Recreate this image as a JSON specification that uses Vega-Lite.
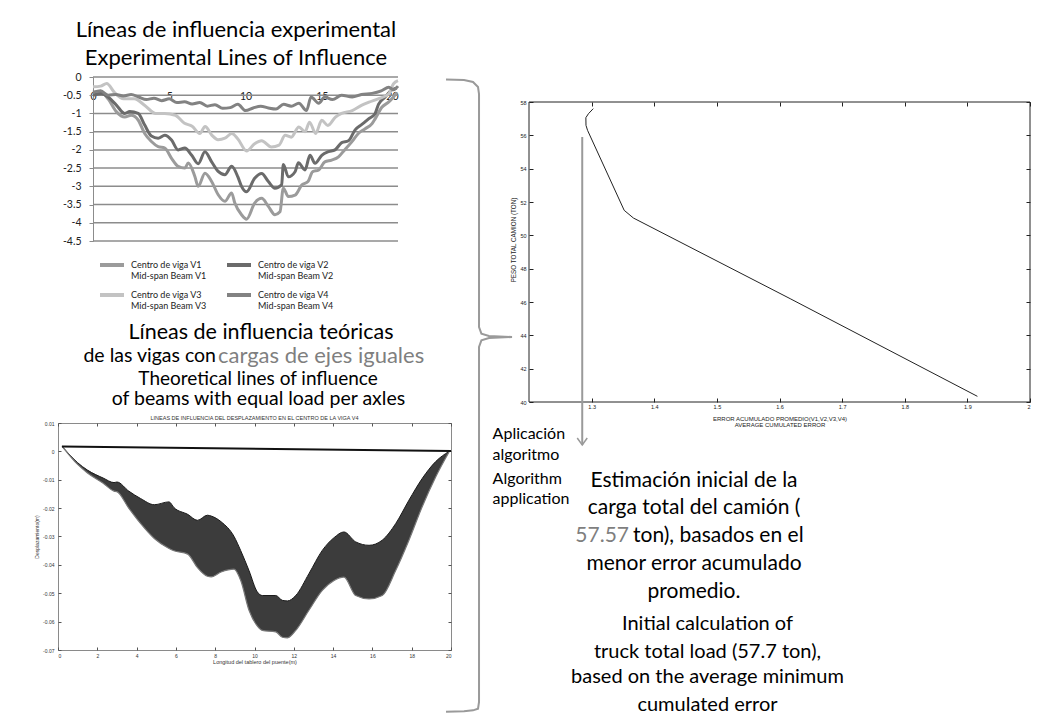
{
  "$schema": "https://vega.github.io/schema/vega-lite/v6.json",
  "background": "white",
  "padding": {"left": 34, "top": 19, "right": 5, "bottom": 5},
  "config": {"font": "Lato", "view": {"stroke": null}, "axis": {"grid": false, "labelOverlap": false}},
  "bounds": "flush",
  "columns": 2,
  "spacing": {"row": 21, "column": 78},
  "concat": [
    {
      "width": 340,
      "height": 164,
      "title": {"text": ["Líneas de influencia experimental", "Experimental Lines of Influence"], "fontSize": 22, "font": "Lato", "fontWeight": "normal", "lineHeight": 28, "anchor": "middle", "dx": 8, "offset": 2, "color": "black"},
      "layer": [
        {
          "data": {"values": [{"g": 0}, {"g": -0.5}, {"g": -1}, {"g": -1.5}, {"g": -2}, {"g": -2.5}, {"g": -3}, {"g": -3.5}, {"g": -4}, {"g": -4.5}]},
          "mark": {"type": "rule", "color": "#8c8c8c", "strokeWidth": 1.5},
          "encoding": {
            "x": {"datum": 0, "type": "quantitative", "scale": {"domain": [-2.295, 20], "nice": false, "zero": false}, "axis": {"orient": "bottom", "offset": -164, "values": [0, 5, 10, 15, 20], "tickCount": 50, "format": "d", "ticks": false, "domain": false, "labelOverlap": false, "labelPadding": 14, "labelFontSize": 10.5, "labelFont": "Lato", "labelColor": "#222", "title": null}},
            "x2": {"datum": 20},
            "y": {"field": "g", "type": "quantitative", "scale": {"domain": [-4.5, 0], "nice": false, "zero": false}, "axis": {"offset": -35, "values": [0, -0.5, -1, -1.5, -2, -2.5, -3, -3.5, -4, -4.5], "tickCount": 50, "labelOverlap": false, "domainColor": "#8c8c8c", "tickColor": "#8c8c8c", "tickSize": 4, "labelPadding": 8, "labelFontSize": 10.5, "labelFont": "Lato", "labelColor": "#222", "title": null, "labelExpr": "datum.value == 0 ? '0' : '-' + format(abs(datum.value), '~g')"}}
          }
        },
        {
          "data": {"values": [
            {"s":"V1","x":0,"y":-0.45},{"s":"V1","x":0.55,"y":-0.42},{"s":"V1","x":0.99,"y":-0.6},{"s":"V1","x":1.53,"y":-0.95},{"s":"V1","x":2.08,"y":-1.1},{"s":"V1","x":2.5,"y":-1.05},{"s":"V1","x":2.96,"y":-1.18},{"s":"V1","x":3.39,"y":-1.55},{"s":"V1","x":3.83,"y":-1.77},{"s":"V1","x":4.27,"y":-1.91},{"s":"V1","x":4.71,"y":-1.95},{"s":"V1","x":5.15,"y":-2.23},{"s":"V1","x":5.58,"y":-2.45},{"s":"V1","x":6.02,"y":-2.5},{"s":"V1","x":6.25,"y":-2.36},{"s":"V1","x":6.68,"y":-2.73},{"s":"V1","x":6.9,"y":-3.0},{"s":"V1","x":7.34,"y":-2.64},{"s":"V1","x":7.77,"y":-2.86},{"s":"V1","x":8.21,"y":-3.23},{"s":"V1","x":8.65,"y":-3.41},{"s":"V1","x":9.09,"y":-3.18},{"s":"V1","x":9.3,"y":-3.46},{"s":"V1","x":9.74,"y":-3.78},{"s":"V1","x":10.07,"y":-3.9},{"s":"V1","x":10.6,"y":-3.46},{"s":"V1","x":11.06,"y":-3.33},{"s":"V1","x":11.5,"y":-3.55},{"s":"V1","x":11.93,"y":-3.78},{"s":"V1","x":12.26,"y":-3.7},{"s":"V1","x":12.48,"y":-3.05},{"s":"V1","x":12.81,"y":-3.28},{"s":"V1","x":13.25,"y":-3.24},{"s":"V1","x":13.7,"y":-2.96},{"s":"V1","x":14.1,"y":-2.87},{"s":"V1","x":14.4,"y":-2.6},{"s":"V1","x":14.8,"y":-2.55},{"s":"V1","x":15.2,"y":-2.33},{"s":"V1","x":15.65,"y":-2.28},{"s":"V1","x":16.1,"y":-2.19},{"s":"V1","x":16.5,"y":-2.0},{"s":"V1","x":16.97,"y":-1.78},{"s":"V1","x":17.4,"y":-1.55},{"s":"V1","x":17.85,"y":-1.42},{"s":"V1","x":18.3,"y":-1.28},{"s":"V1","x":18.5,"y":-1.15},{"s":"V1","x":18.94,"y":-0.83},{"s":"V1","x":19.38,"y":-0.69},{"s":"V1","x":19.7,"y":-0.55},{"s":"V1","x":19.93,"y":-0.42},
            {"s":"V2","x":0,"y":-0.5},{"s":"V2","x":0.55,"y":-0.45},{"s":"V2","x":0.99,"y":-0.55},{"s":"V2","x":1.53,"y":-0.77},{"s":"V2","x":2.08,"y":-1.0},{"s":"V2","x":2.41,"y":-0.95},{"s":"V2","x":2.96,"y":-1.0},{"s":"V2","x":3.39,"y":-1.32},{"s":"V2","x":3.83,"y":-1.62},{"s":"V2","x":4.27,"y":-1.68},{"s":"V2","x":4.71,"y":-1.6},{"s":"V2","x":5.15,"y":-1.73},{"s":"V2","x":5.58,"y":-2.0},{"s":"V2","x":6.02,"y":-1.95},{"s":"V2","x":6.46,"y":-2.14},{"s":"V2","x":6.9,"y":-2.38},{"s":"V2","x":7.34,"y":-2.05},{"s":"V2","x":7.77,"y":-2.32},{"s":"V2","x":8.21,"y":-2.59},{"s":"V2","x":8.65,"y":-2.68},{"s":"V2","x":9.09,"y":-2.45},{"s":"V2","x":9.5,"y":-2.74},{"s":"V2","x":9.74,"y":-3.0},{"s":"V2","x":10.07,"y":-3.15},{"s":"V2","x":10.6,"y":-2.78},{"s":"V2","x":11.06,"y":-2.65},{"s":"V2","x":11.5,"y":-2.87},{"s":"V2","x":11.93,"y":-3.05},{"s":"V2","x":12.37,"y":-2.96},{"s":"V2","x":12.48,"y":-2.4},{"s":"V2","x":12.81,"y":-2.74},{"s":"V2","x":13.25,"y":-2.6},{"s":"V2","x":13.47,"y":-2.35},{"s":"V2","x":13.9,"y":-2.55},{"s":"V2","x":14.23,"y":-2.15},{"s":"V2","x":14.56,"y":-2.37},{"s":"V2","x":15.0,"y":-2.15},{"s":"V2","x":15.44,"y":-2.05},{"s":"V2","x":15.87,"y":-2.0},{"s":"V2","x":16.31,"y":-1.8},{"s":"V2","x":16.75,"y":-1.75},{"s":"V2","x":17.19,"y":-1.45},{"s":"V2","x":17.63,"y":-1.3},{"s":"V2","x":18.07,"y":-1.15},{"s":"V2","x":18.5,"y":-1.0},{"s":"V2","x":18.72,"y":-0.75},{"s":"V2","x":19.16,"y":-0.55},{"s":"V2","x":19.6,"y":-0.35},{"s":"V2","x":19.93,"y":-0.3},
            {"s":"V3","x":0,"y":-0.27},{"s":"V3","x":0.5,"y":-0.25},{"s":"V3","x":0.9,"y":-0.18},{"s":"V3","x":1.4,"y":-0.42},{"s":"V3","x":2.0,"y":-0.6},{"s":"V3","x":2.7,"y":-0.6},{"s":"V3","x":3.4,"y":-0.78},{"s":"V3","x":4.1,"y":-1.0},{"s":"V3","x":4.7,"y":-1.0},{"s":"V3","x":5.4,"y":-1.05},{"s":"V3","x":6.0,"y":-1.27},{"s":"V3","x":6.5,"y":-1.35},{"s":"V3","x":7.0,"y":-1.55},{"s":"V3","x":7.35,"y":-1.36},{"s":"V3","x":7.8,"y":-1.6},{"s":"V3","x":8.2,"y":-1.72},{"s":"V3","x":8.65,"y":-1.68},{"s":"V3","x":9.1,"y":-1.55},{"s":"V3","x":9.5,"y":-1.7},{"s":"V3","x":10.07,"y":-2.03},{"s":"V3","x":10.6,"y":-1.83},{"s":"V3","x":11.06,"y":-1.75},{"s":"V3","x":11.7,"y":-1.92},{"s":"V3","x":12.2,"y":-1.87},{"s":"V3","x":12.6,"y":-1.6},{"s":"V3","x":13.0,"y":-1.65},{"s":"V3","x":13.5,"y":-1.37},{"s":"V3","x":13.9,"y":-1.5},{"s":"V3","x":14.2,"y":-1.24},{"s":"V3","x":14.6,"y":-1.55},{"s":"V3","x":15.0,"y":-1.19},{"s":"V3","x":15.4,"y":-1.33},{"s":"V3","x":15.9,"y":-1.1},{"s":"V3","x":16.3,"y":-1.0},{"s":"V3","x":17.0,"y":-0.92},{"s":"V3","x":17.6,"y":-0.78},{"s":"V3","x":18.1,"y":-0.69},{"s":"V3","x":18.7,"y":-0.6},{"s":"V3","x":19.4,"y":-0.46},{"s":"V3","x":19.7,"y":-0.19},{"s":"V3","x":20,"y":-0.1},
            {"s":"V4","x":0,"y":-0.42},{"s":"V4","x":0.5,"y":-0.38},{"s":"V4","x":1,"y":-0.5},{"s":"V4","x":1.5,"y":-0.48},{"s":"V4","x":2,"y":-0.52},{"s":"V4","x":2.5,"y":-0.48},{"s":"V4","x":3,"y":-0.55},{"s":"V4","x":3.5,"y":-0.62},{"s":"V4","x":4,"y":-0.58},{"s":"V4","x":4.5,"y":-0.65},{"s":"V4","x":5,"y":-0.6},{"s":"V4","x":5.5,"y":-0.7},{"s":"V4","x":6,"y":-0.68},{"s":"V4","x":6.5,"y":-0.74},{"s":"V4","x":7,"y":-0.7},{"s":"V4","x":7.5,"y":-0.8},{"s":"V4","x":8,"y":-0.76},{"s":"V4","x":8.5,"y":-0.86},{"s":"V4","x":9,"y":-0.84},{"s":"V4","x":9.5,"y":-0.75},{"s":"V4","x":10,"y":-0.92},{"s":"V4","x":10.5,"y":-0.85},{"s":"V4","x":11,"y":-0.8},{"s":"V4","x":11.5,"y":-0.85},{"s":"V4","x":12,"y":-0.88},{"s":"V4","x":12.5,"y":-0.75},{"s":"V4","x":13,"y":-0.8},{"s":"V4","x":13.5,"y":-0.72},{"s":"V4","x":14,"y":-0.92},{"s":"V4","x":14.3,"y":-0.55},{"s":"V4","x":14.8,"y":-0.72},{"s":"V4","x":15.2,"y":-0.55},{"s":"V4","x":15.7,"y":-0.62},{"s":"V4","x":16.3,"y":-0.5},{"s":"V4","x":17,"y":-0.55},{"s":"V4","x":17.6,"y":-0.48},{"s":"V4","x":18.3,"y":-0.45},{"s":"V4","x":18.9,"y":-0.38},{"s":"V4","x":19.4,"y":-0.28},{"s":"V4","x":19.7,"y":-0.35},{"s":"V4","x":20,"y":-0.25}
          ]},
          "mark": {"type": "line", "strokeWidth": 3, "interpolate": "monotone"},
          "encoding": {
            "x": {"field": "x", "type": "quantitative", "scale": {"domain": [-2.295, 20], "nice": false, "zero": false}},
            "y": {"field": "y", "type": "quantitative", "scale": {"domain": [-4.5, 0], "nice": false, "zero": false}},
            "color": {"field": "s", "type": "nominal", "scale": {"domain": ["V1", "V2", "V3", "V4"], "range": ["#9b9b9b", "#6b6b6b", "#c3c3c3", "#828282"]},
              "legend": {"orient": "none", "legendX": 40, "legendY": 174, "direction": "horizontal", "columns": 2, "title": null, "symbolType": "stroke", "symbolStrokeWidth": 4, "symbolSize": 576, "labelFontSize": 9, "labelFont": "Lato", "labelColor": "#222", "labelExpr": "['Centro de viga ' + datum.label, 'Mid-span Beam ' + datum.label]", "columnPadding": 12, "rowPadding": 0, "labelOffset": 5, "labelLimit": 200, "padding": 0}}
          }
        }
      ]
    },
    {
      "width": 501,
      "height": 325,
      "resolve": {"axis": {"x": "independent", "y": "independent"}},
      "layer": [
        {
          "data": {"values": [{"box": "frame"}]},
          "mark": {"type": "rect", "fillOpacity": 0, "stroke": "#222", "strokeWidth": 1},
          "encoding": {
            "x": {"datum": 1.2, "type": "quantitative", "scale": {"domain": [1.2, 2], "nice": false, "zero": false}, "axis": {"orient": "top", "offset": -25, "values": [1.3, 1.4, 1.5, 1.6, 1.7, 1.8, 1.9, 2], "tickCount": 50, "labels": false, "domain": false, "tickSize": -4, "tickColor": "#222", "title": null}},
            "x2": {"datum": 2},
            "y": {"datum": 40, "type": "quantitative", "scale": {"domain": [40, 59.5], "nice": false, "zero": false}, "axis": {"orient": "right", "values": [40, 42, 44, 46, 48, 50, 52, 54, 56, 58], "tickCount": 50, "labels": false, "domain": false, "tickSize": -4, "tickColor": "#222", "title": null}},
            "y2": {"datum": 58}
          }
        },
        {
          "data": {"values": [
            {"i": 1, "e": 1.3026, "p": 57.6}, {"i": 2, "e": 1.295, "p": 57.3}, {"i": 3, "e": 1.2908, "p": 57.06}, {"i": 4, "e": 1.291, "p": 56.6}, {"i": 5, "e": 1.2935, "p": 56.3}, {"i": 6, "e": 1.352, "p": 51.5}, {"i": 7, "e": 1.3667, "p": 51.04}, {"i": 8, "e": 1.617, "p": 46.2}, {"i": 9, "e": 1.916, "p": 40.34}
          ]},
          "mark": {"type": "line", "color": "#222", "strokeWidth": 1},
          "encoding": {
            "x": {"field": "e", "type": "quantitative", "scale": {"domain": [1.2, 2], "nice": false, "zero": false}, "axis": {"values": [1.3, 1.4, 1.5, 1.6, 1.7, 1.8, 1.9, 2], "tickCount": 50, "format": "~g", "domain": false, "tickSize": -4, "tickColor": "#222", "labelFont": "Liberation Sans", "labelFontSize": 5.5, "labelColor": "#222", "labelPadding": 6, "title": ["ERROR ACUMULADO PROMEDIO(V1,V2,V3,V4)", "AVERAGE CUMULATED ERROR"], "titleFont": "Liberation Sans", "titleFontSize": 6, "titleFontWeight": "normal", "titleColor": "#222", "titleLineHeight": 6, "titlePadding": 6}},
            "y": {"field": "p", "type": "quantitative", "scale": {"domain": [40, 59.5], "nice": false, "zero": false}, "axis": {"values": [40, 42, 44, 46, 48, 50, 52, 54, 56, 58], "tickCount": 50, "format": "d", "domain": false, "tickSize": -4, "tickColor": "#222", "labelFont": "Liberation Sans", "labelFontSize": 5.5, "labelColor": "#222", "labelPadding": 7, "title": "PESO TOTAL CAMION (TON)", "titleFont": "Liberation Sans", "titleFontSize": 6.3, "titleFontWeight": "normal", "titleColor": "#222", "titlePadding": 3}},
            "order": {"field": "i", "type": "quantitative"}
          }
        },
        {
          "data": {"values": [{"e": 1.285, "top": 55.9, "bot": 37.42}]},
          "mark": {"type": "rule", "color": "#9a9a9a", "strokeWidth": 2},
          "encoding": {
            "x": {"field": "e", "type": "quantitative", "scale": {"domain": [1.2, 2], "nice": false, "zero": false}, "axis": null},
            "y": {"field": "top", "type": "quantitative", "scale": {"domain": [40, 59.5], "nice": false, "zero": false}, "axis": null},
            "y2": {"field": "bot"}
          }
        },
        {
          "data": {"values": [{"e": 1.285, "p": 37.42}]},
          "mark": {"type": "point", "shape": "M-1,-1.4L0,0L1,-1.4", "size": 100, "filled": false, "stroke": "#9a9a9a", "strokeWidth": 1.5, "opacity": 1},
          "encoding": {
            "x": {"field": "e", "type": "quantitative", "scale": {"domain": [1.2, 2], "nice": false, "zero": false}, "axis": null},
            "y": {"field": "p", "type": "quantitative", "scale": {"domain": [40, 59.5], "nice": false, "zero": false}, "axis": null}
          }
        },
        {
          "data": {"values": [
            {"i": 1, "e": 1.0675, "p": 59.35}, {"i": 2, "e": 1.0962, "p": 59.32}, {"i": 3, "e": 1.1106, "p": 59.2}, {"i": 4, "e": 1.1186, "p": 58.9}, {"i": 5, "e": 1.1202, "p": 58.48}, {"i": 6, "e": 1.1202, "p": 44.5}, {"i": 7, "e": 1.124, "p": 44.1}, {"i": 8, "e": 1.1361, "p": 43.96}, {"i": 9, "e": 1.1729, "p": 43.9}, {"i": 10, "e": 1.1361, "p": 43.84}, {"i": 11, "e": 1.124, "p": 43.7}, {"i": 12, "e": 1.1202, "p": 43.3}, {"i": 13, "e": 1.1202, "p": 22.0}, {"i": 14, "e": 1.1186, "p": 21.6}, {"i": 15, "e": 1.1106, "p": 21.5}, {"i": 16, "e": 1.0962, "p": 21.45}, {"i": 17, "e": 1.0675, "p": 21.42}
          ]},
          "mark": {"type": "line", "color": "#9a9a9a", "strokeWidth": 2},
          "encoding": {
            "x": {"field": "e", "type": "quantitative", "scale": {"domain": [1.2, 2], "nice": false, "zero": false}, "axis": null},
            "y": {"field": "p", "type": "quantitative", "scale": {"domain": [40, 59.5], "nice": false, "zero": false}, "axis": null},
            "order": {"field": "i", "type": "quantitative"}
          }
        },
        {
          "data": {"values": [{"t": "Aplicación"}]},
          "mark": {"type": "text", "fontSize": 16, "font": "Lato", "align": "left", "baseline": "middle", "color": "black"},
          "encoding": {"text": {"field": "t"}, "x": {"datum": 1.1419, "type": "quantitative", "scale": {"domain": [1.2, 2], "nice": false, "zero": false}, "axis": null}, "y": {"datum": 38.1, "type": "quantitative", "scale": {"domain": [40, 59.5], "nice": false, "zero": false}, "axis": null}}
        },
        {
          "data": {"values": [{"t": "algoritmo"}]},
          "mark": {"type": "text", "fontSize": 16, "font": "Lato", "align": "left", "baseline": "middle", "color": "black"},
          "encoding": {"text": {"field": "t"}, "x": {"datum": 1.1419, "type": "quantitative", "scale": {"domain": [1.2, 2], "nice": false, "zero": false}, "axis": null}, "y": {"datum": 36.82, "type": "quantitative", "scale": {"domain": [40, 59.5], "nice": false, "zero": false}, "axis": null}}
        },
        {
          "data": {"values": [{"t": "Algorithm"}]},
          "mark": {"type": "text", "fontSize": 16, "font": "Lato", "align": "left", "baseline": "middle", "color": "black"},
          "encoding": {"text": {"field": "t"}, "x": {"datum": 1.1419, "type": "quantitative", "scale": {"domain": [1.2, 2], "nice": false, "zero": false}, "axis": null}, "y": {"datum": 35.4, "type": "quantitative", "scale": {"domain": [40, 59.5], "nice": false, "zero": false}, "axis": null}}
        },
        {
          "data": {"values": [{"t": "application"}]},
          "mark": {"type": "text", "fontSize": 16, "font": "Lato", "align": "left", "baseline": "middle", "color": "black"},
          "encoding": {"text": {"field": "t"}, "x": {"datum": 1.1419, "type": "quantitative", "scale": {"domain": [1.2, 2], "nice": false, "zero": false}, "axis": null}, "y": {"datum": 34.2, "type": "quantitative", "scale": {"domain": [40, 59.5], "nice": false, "zero": false}, "axis": null}}
        },
        {
          "data": {"values": [{"t": "Estimación inicial de la"}]},
          "mark": {"type": "text", "fontSize": 21, "font": "Lato", "align": "center", "baseline": "middle", "color": "black"},
          "encoding": {"text": {"field": "t"}, "x": {"datum": 1.4635, "type": "quantitative", "scale": {"domain": [1.2, 2], "nice": false, "zero": false}, "axis": null}, "y": {"datum": 35.29, "type": "quantitative", "scale": {"domain": [40, 59.5], "nice": false, "zero": false}, "axis": null}}
        },
        {
          "data": {"values": [{"t": "carga total del camión ("}]},
          "mark": {"type": "text", "fontSize": 21, "font": "Lato", "align": "center", "baseline": "middle", "color": "black"},
          "encoding": {"text": {"field": "t"}, "x": {"datum": 1.4635, "type": "quantitative", "scale": {"domain": [1.2, 2], "nice": false, "zero": false}, "axis": null}, "y": {"datum": 33.64, "type": "quantitative", "scale": {"domain": [40, 59.5], "nice": false, "zero": false}, "axis": null}}
        },
        {
          "data": {"values": [{"t": "57.57"}]},
          "mark": {"type": "text", "fontSize": 21, "font": "Lato", "align": "right", "baseline": "middle", "color": "#7f7f7f"},
          "encoding": {"text": {"field": "t"}, "x": {"datum": 1.3597, "type": "quantitative", "scale": {"domain": [1.2, 2], "nice": false, "zero": false}, "axis": null}, "y": {"datum": 31.96, "type": "quantitative", "scale": {"domain": [40, 59.5], "nice": false, "zero": false}, "axis": null}}
        },
        {
          "data": {"values": [{"t": "ton), basados en el"}]},
          "mark": {"type": "text", "fontSize": 21, "font": "Lato", "align": "left", "baseline": "middle", "color": "black"},
          "encoding": {"text": {"field": "t"}, "x": {"datum": 1.3661, "type": "quantitative", "scale": {"domain": [1.2, 2], "nice": false, "zero": false}, "axis": null}, "y": {"datum": 31.96, "type": "quantitative", "scale": {"domain": [40, 59.5], "nice": false, "zero": false}, "axis": null}}
        },
        {
          "data": {"values": [{"t": "menor error acumulado"}]},
          "mark": {"type": "text", "fontSize": 21, "font": "Lato", "align": "center", "baseline": "middle", "color": "black"},
          "encoding": {"text": {"field": "t"}, "x": {"datum": 1.4635, "type": "quantitative", "scale": {"domain": [1.2, 2], "nice": false, "zero": false}, "axis": null}, "y": {"datum": 30.28, "type": "quantitative", "scale": {"domain": [40, 59.5], "nice": false, "zero": false}, "axis": null}}
        },
        {
          "data": {"values": [{"t": "promedio."}]},
          "mark": {"type": "text", "fontSize": 21, "font": "Lato", "align": "center", "baseline": "middle", "color": "black"},
          "encoding": {"text": {"field": "t"}, "x": {"datum": 1.4635, "type": "quantitative", "scale": {"domain": [1.2, 2], "nice": false, "zero": false}, "axis": null}, "y": {"datum": 28.63, "type": "quantitative", "scale": {"domain": [40, 59.5], "nice": false, "zero": false}, "axis": null}}
        },
        {
          "data": {"values": [{"t": "Initial calculation of"}]},
          "mark": {"type": "text", "fontSize": 20, "font": "Lato", "align": "center", "baseline": "middle", "color": "black"},
          "encoding": {"text": {"field": "t"}, "x": {"datum": 1.485, "type": "quantitative", "scale": {"domain": [1.2, 2], "nice": false, "zero": false}, "axis": null}, "y": {"datum": 26.68, "type": "quantitative", "scale": {"domain": [40, 59.5], "nice": false, "zero": false}, "axis": null}}
        },
        {
          "data": {"values": [{"t": "truck total load (57.7 ton),"}]},
          "mark": {"type": "text", "fontSize": 20, "font": "Lato", "align": "center", "baseline": "middle", "color": "black"},
          "encoding": {"text": {"field": "t"}, "x": {"datum": 1.485, "type": "quantitative", "scale": {"domain": [1.2, 2], "nice": false, "zero": false}, "axis": null}, "y": {"datum": 25.0, "type": "quantitative", "scale": {"domain": [40, 59.5], "nice": false, "zero": false}, "axis": null}}
        },
        {
          "data": {"values": [{"t": "based on the average minimum"}]},
          "mark": {"type": "text", "fontSize": 20, "font": "Lato", "align": "center", "baseline": "middle", "color": "black"},
          "encoding": {"text": {"field": "t"}, "x": {"datum": 1.485, "type": "quantitative", "scale": {"domain": [1.2, 2], "nice": false, "zero": false}, "axis": null}, "y": {"datum": 23.5, "type": "quantitative", "scale": {"domain": [40, 59.5], "nice": false, "zero": false}, "axis": null}}
        },
        {
          "data": {"values": [{"t": "cumulated error"}]},
          "mark": {"type": "text", "fontSize": 20, "font": "Lato", "align": "center", "baseline": "middle", "color": "black"},
          "encoding": {"text": {"field": "t"}, "x": {"datum": 1.485, "type": "quantitative", "scale": {"domain": [1.2, 2], "nice": false, "zero": false}, "axis": null}, "y": {"datum": 21.82, "type": "quantitative", "scale": {"domain": [40, 59.5], "nice": false, "zero": false}, "axis": null}}
        }
      ]
    },
    {
      "width": 393,
      "height": 227,
      "view": {"stroke": "#8a8a8a"},
      "resolve": {"axis": {"x": "independent", "y": "independent"}},
      "layer": [
        {
          "data": {"name": "band", "values": [
            {"x":0.22,"top":0.0017,"bot":0.0017},{"x":1.0,"top":-0.004,"bot":-0.0046},{"x":1.5,"top":-0.0066,"bot":-0.0076},{"x":2.3,"top":-0.0094,"bot":-0.0112},{"x":2.85,"top":-0.011,"bot":-0.014},{"x":3.0,"top":-0.0108,"bot":-0.0142},{"x":3.6,"top":-0.014,"bot":-0.02},{"x":4.2,"top":-0.0166,"bot":-0.0254},{"x":4.9,"top":-0.0188,"bot":-0.0307},{"x":5.65,"top":-0.0178,"bot":-0.0342},{"x":5.9,"top":-0.0198,"bot":-0.035},{"x":6.6,"top":-0.0222,"bot":-0.0362},{"x":7.1,"top":-0.0243,"bot":-0.041},{"x":7.6,"top":-0.0225,"bot":-0.044},{"x":7.8,"top":-0.0228,"bot":-0.0442},{"x":8.3,"top":-0.0248,"bot":-0.0425},{"x":8.96,"top":-0.03,"bot":-0.0415},{"x":9.3,"top":-0.035,"bot":-0.0455},{"x":9.72,"top":-0.042,"bot":-0.056},{"x":10.14,"top":-0.0495,"bot":-0.0615},{"x":10.4,"top":-0.0508,"bot":-0.0631},{"x":11.08,"top":-0.0508,"bot":-0.0636},{"x":11.42,"top":-0.0525,"bot":-0.0655},{"x":11.68,"top":-0.0527,"bot":-0.0657},{"x":12.1,"top":-0.0508,"bot":-0.0631},{"x":12.77,"top":-0.0431,"bot":-0.056},{"x":13.45,"top":-0.0349,"bot":-0.049},{"x":14.05,"top":-0.0304,"bot":-0.0455},{"x":14.55,"top":-0.0284,"bot":-0.0443},{"x":15.15,"top":-0.0319,"bot":-0.0508},{"x":15.83,"top":-0.0331,"bot":-0.052},{"x":16.5,"top":-0.0313,"bot":-0.0508},{"x":17.19,"top":-0.0254,"bot":-0.0419},{"x":17.86,"top":-0.0172,"bot":-0.0313},{"x":18.54,"top":-0.0095,"bot":-0.0194},{"x":19.22,"top":-0.0036,"bot":-0.009},{"x":19.9,"top":0.0,"bot":-0.0002}
          ]},
          "layer": [
            {
              "mark": {"type": "area", "color": "#3c3c3c", "interpolate": "monotone"},
              "encoding": {
                "x": {"field": "x", "type": "quantitative", "scale": {"domain": [0, 20], "nice": false, "zero": false}, "axis": {"values": [0,2,4,6,8,10,12,14,16,18,20], "tickCount": 50, "format": "d", "labelOverlap": false, "domain": false, "tickSize": -3, "tickColor": "#555", "labelFont": "Liberation Sans", "labelFontSize": 5, "labelColor": "#333", "labelPadding": 6, "title": "Longitud del tablero del puente(m)", "titleFont": "Liberation Sans", "titleFontSize": 5.5, "titleFontWeight": "normal", "titleColor": "#333", "titlePadding": 1}},
                "y": {"field": "top", "type": "quantitative", "scale": {"domain": [-0.07, 0.01], "nice": false, "zero": false}, "axis": {"values": [0.01, 0, -0.01, -0.02, -0.03, -0.04, -0.05, -0.06, -0.07], "tickCount": 50, "labelOverlap": false, "domain": false, "tickSize": -3, "tickColor": "#555", "labelFont": "Liberation Sans", "labelFontSize": 5, "labelColor": "#333", "labelPadding": 7, "labelExpr": "datum.value == 0 ? '0' : (datum.value < 0 ? '-' : '') + format(abs(datum.value), '.2f')", "title": "Desplazamiento(m)", "titleFont": "Liberation Sans", "titleFontSize": 5, "titleFontWeight": "normal", "titleColor": "#333", "titlePadding": 3}},
                "y2": {"field": "bot"}
              }
            },
            {
              "mark": {"type": "line", "color": "#1a1a1a", "strokeWidth": 1, "interpolate": "monotone"},
              "encoding": {
                "x": {"field": "x", "type": "quantitative"},
                "y": {"field": "top", "type": "quantitative"}
              }
            },
            {
              "mark": {"type": "line", "color": "#777", "strokeWidth": 1.2, "interpolate": "monotone"},
              "encoding": {
                "x": {"field": "x", "type": "quantitative"},
                "y": {"field": "bot", "type": "quantitative"}
              }
            }
          ]
        },
        {
          "data": {"values": [{"x": 0.2, "y": 0.0017}, {"x": 20, "y": 0.0001}]},
          "mark": {"type": "line", "color": "#111", "strokeWidth": 2},
          "encoding": {
            "x": {"field": "x", "type": "quantitative", "scale": {"domain": [0, 20], "nice": false, "zero": false}, "axis": {"orient": "top", "values": [0,2,4,6,8,10,12,14,16,18,20], "tickCount": 50, "labels": false, "domain": false, "tickSize": -3, "tickColor": "#555", "title": null}},
            "y": {"field": "y", "type": "quantitative", "scale": {"domain": [-0.07, 0.01], "nice": false, "zero": false}, "axis": {"orient": "right", "values": [0.01, 0, -0.01, -0.02, -0.03, -0.04, -0.05, -0.06, -0.07], "tickCount": 50, "labels": false, "domain": false, "tickSize": -3, "tickColor": "#555", "title": null}}
          }
        },
        {
          "data": {"values": [{"t": "LINEAS DE INFLUENCIA DEL DESPLAZAMIENTO EN EL CENTRO DE LA VIGA V4"}]},
          "mark": {"type": "text", "fontSize": 5.5, "font": "Liberation Sans", "align": "center", "baseline": "bottom", "dy": -2, "color": "#333"},
          "encoding": {"text": {"field": "t"}, "x": {"datum": 10, "type": "quantitative", "scale": {"domain": [0, 20], "nice": false, "zero": false}, "axis": null}, "y": {"datum": 0.01, "type": "quantitative", "scale": {"domain": [-0.07, 0.01], "nice": false, "zero": false}, "axis": null}}
        },
        {
          "data": {"values": [{"t": "Líneas de influencia teóricas"}]},
          "mark": {"type": "text", "fontSize": 21.5, "font": "Lato", "align": "center", "baseline": "middle", "color": "black"},
          "encoding": {"text": {"field": "t"}, "x": {"datum": 10.33, "type": "quantitative", "scale": {"domain": [0, 20], "nice": false, "zero": false}, "axis": null}, "y": {"datum": 0.0418, "type": "quantitative", "scale": {"domain": [-0.07, 0.01], "nice": false, "zero": false}, "axis": null}}
        },
        {
          "data": {"values": [{"t": "de las vigas con"}]},
          "mark": {"type": "text", "fontSize": 19.5, "font": "Lato", "align": "right", "baseline": "middle", "color": "black"},
          "encoding": {"text": {"field": "t"}, "x": {"datum": 8.04, "type": "quantitative", "scale": {"domain": [0, 20], "nice": false, "zero": false}, "axis": null}, "y": {"datum": 0.0336, "type": "quantitative", "scale": {"domain": [-0.07, 0.01], "nice": false, "zero": false}, "axis": null}}
        },
        {
          "data": {"values": [{"t": "cargas de ejes iguales"}]},
          "mark": {"type": "text", "fontSize": 22, "font": "Lato", "align": "left", "baseline": "middle", "color": "#7f7f7f"},
          "encoding": {"text": {"field": "t"}, "x": {"datum": 8.14, "type": "quantitative", "scale": {"domain": [0, 20], "nice": false, "zero": false}, "axis": null}, "y": {"datum": 0.0336, "type": "quantitative", "scale": {"domain": [-0.07, 0.01], "nice": false, "zero": false}, "axis": null}}
        },
        {
          "data": {"values": [{"t": "Theoretical lines of influence"}]},
          "mark": {"type": "text", "fontSize": 19, "font": "Lato", "align": "center", "baseline": "middle", "color": "black"},
          "encoding": {"text": {"field": "t"}, "x": {"datum": 10.18, "type": "quantitative", "scale": {"domain": [0, 20], "nice": false, "zero": false}, "axis": null}, "y": {"datum": 0.0256, "type": "quantitative", "scale": {"domain": [-0.07, 0.01], "nice": false, "zero": false}, "axis": null}}
        },
        {
          "data": {"values": [{"t": "of beams with equal load per axles"}]},
          "mark": {"type": "text", "fontSize": 19.5, "font": "Lato", "align": "center", "baseline": "middle", "color": "black"},
          "encoding": {"text": {"field": "t"}, "x": {"datum": 10.2, "type": "quantitative", "scale": {"domain": [0, 20], "nice": false, "zero": false}, "axis": null}, "y": {"datum": 0.01835, "type": "quantitative", "scale": {"domain": [-0.07, 0.01], "nice": false, "zero": false}, "axis": null}}
        }
      ]
    }
  ]
}
